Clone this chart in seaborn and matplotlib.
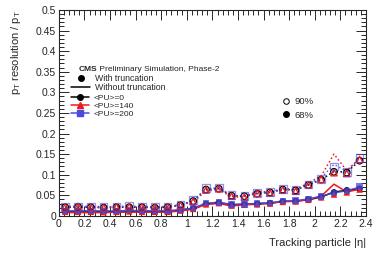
import numpy as np
import pandas as pd
import matplotlib
matplotlib.use("Agg")
import matplotlib.pyplot as plt
from matplotlib.lines import Line2D
from matplotlib.ticker import MultipleLocator
import seaborn as sns

# bin centres in |eta|
eta = [0.05, 0.15, 0.25, 0.35, 0.45, 0.55, 0.65, 0.75, 0.85, 0.95, 1.05, 1.15,
       1.25, 1.35, 1.45, 1.55, 1.65, 1.75, 1.85, 1.95, 2.05, 2.15, 2.25, 2.35]

# with truncation (markers)
pu0_68 = [0.011, 0.011, 0.011, 0.010, 0.011, 0.012, 0.011, 0.011, 0.011, 0.014, 0.018, 0.029,
          0.032, 0.027, 0.028, 0.029, 0.031, 0.035, 0.036, 0.040, 0.046, 0.057, 0.062, 0.066]
pu140_68 = [0.010, 0.010, 0.010, 0.009, 0.010, 0.011, 0.010, 0.010, 0.010, 0.013, 0.017, 0.028,
            0.031, 0.025, 0.027, 0.028, 0.030, 0.034, 0.035, 0.039, 0.045, 0.052, 0.057, 0.064]
pu200_68 = [0.012, 0.012, 0.012, 0.012, 0.012, 0.014, 0.013, 0.012, 0.013, 0.015, 0.019, 0.031,
            0.033, 0.028, 0.028, 0.030, 0.031, 0.036, 0.037, 0.041, 0.047, 0.056, 0.061, 0.071]
pu0_90 = [0.021, 0.022, 0.021, 0.020, 0.021, 0.021, 0.021, 0.020, 0.021, 0.026, 0.036, 0.064,
          0.066, 0.049, 0.048, 0.054, 0.057, 0.064, 0.062, 0.075, 0.088, 0.107, 0.105, 0.134]
pu140_90 = [0.022, 0.023, 0.021, 0.020, 0.022, 0.022, 0.022, 0.021, 0.022, 0.026, 0.035, 0.063,
            0.066, 0.048, 0.046, 0.055, 0.056, 0.063, 0.060, 0.075, 0.089, 0.105, 0.103, 0.137]
pu200_90 = [0.022, 0.022, 0.022, 0.021, 0.022, 0.024, 0.022, 0.021, 0.022, 0.027, 0.038, 0.068,
            0.069, 0.050, 0.048, 0.055, 0.058, 0.065, 0.063, 0.076, 0.090, 0.120, 0.107, 0.140]

# without truncation (lines)
pu0_68_line = [0.011, 0.011, 0.011, 0.011, 0.011, 0.012, 0.011, 0.011, 0.011, 0.014, 0.018, 0.029,
               0.032, 0.027, 0.028, 0.030, 0.031, 0.035, 0.036, 0.039, 0.046, 0.058, 0.062, 0.066]
pu140_68_line = [0.008, 0.008, 0.008, 0.008, 0.009, 0.009, 0.009, 0.009, 0.009, 0.012, 0.016, 0.028,
                 0.030, 0.024, 0.027, 0.028, 0.030, 0.035, 0.035, 0.040, 0.048, 0.077, 0.058, 0.065]
pu200_68_line = [0.012, 0.012, 0.012, 0.012, 0.012, 0.013, 0.013, 0.012, 0.013, 0.015, 0.019, 0.031,
                 0.033, 0.028, 0.029, 0.030, 0.032, 0.036, 0.037, 0.041, 0.048, 0.056, 0.061, 0.070]
pu0_90_line = [0.021, 0.021, 0.021, 0.020, 0.021, 0.021, 0.021, 0.020, 0.021, 0.026, 0.037, 0.064,
               0.067, 0.049, 0.048, 0.054, 0.057, 0.064, 0.063, 0.075, 0.088, 0.108, 0.106, 0.134]
pu140_90_line = [0.023, 0.024, 0.023, 0.022, 0.023, 0.023, 0.023, 0.022, 0.023, 0.027, 0.034, 0.061,
                 0.064, 0.046, 0.046, 0.060, 0.058, 0.066, 0.064, 0.080, 0.097, 0.150, 0.110, 0.140]
pu200_90_line = [0.022, 0.022, 0.022, 0.021, 0.022, 0.023, 0.022, 0.021, 0.022, 0.027, 0.037, 0.066,
                 0.068, 0.050, 0.048, 0.055, 0.058, 0.065, 0.063, 0.077, 0.092, 0.125, 0.108, 0.140]

pu_labels = ["<PU>=0", "<PU>=140", "<PU>=200"]
colors = {"<PU>=0": "black", "<PU>=140": "#f01818", "<PU>=200": "#4a4ae0"}
markers = {"<PU>=0": "o", "<PU>=140": "^", "<PU>=200": "s"}

marker_vals = {("<PU>=0", "68%"): pu0_68, ("<PU>=140", "68%"): pu140_68, ("<PU>=200", "68%"): pu200_68,
               ("<PU>=0", "90%"): pu0_90, ("<PU>=140", "90%"): pu140_90, ("<PU>=200", "90%"): pu200_90}
line_vals = {("<PU>=0", "68%"): pu0_68_line, ("<PU>=140", "68%"): pu140_68_line,
             ("<PU>=200", "68%"): pu200_68_line, ("<PU>=0", "90%"): pu0_90_line,
             ("<PU>=140", "90%"): pu140_90_line, ("<PU>=200", "90%"): pu200_90_line}

sns.set_style("ticks")
plt.rcParams["font.family"] = ["Liberation Sans", "DejaVu Sans"]
plt.rcParams["mathtext.fontset"] = "custom"
plt.rcParams["mathtext.rm"] = "Liberation Sans"
plt.rcParams["mathtext.it"] = "Liberation Sans:italic"

fig = plt.figure(figsize=(3.82, 2.54), dpi=100)
ax = fig.add_axes([0.154, 0.150, 0.804, 0.811])

for (pu, q), vals in line_vals.items():
    df = pd.DataFrame({"eta": eta, "res": vals})
    sns.lineplot(data=df, x="eta", y="res", ax=ax, color=colors[pu],
                 linestyle="-" if q == "68%" else ":", linewidth=1.1,
                 alpha=0.85 if pu == "<PU>=200" else 1, zorder=2)

for (pu, q), vals in marker_vals.items():
    df = pd.DataFrame({"eta": eta, "res": vals})
    if q == "68%":
        sns.scatterplot(data=df, x="eta", y="res", ax=ax, marker=markers[pu],
                        color=colors[pu], edgecolor="none", s=22,
                        alpha=0.75 if pu == "<PU>=200" else 1, zorder=3)
    else:
        sns.scatterplot(data=df, x="eta", y="res", ax=ax, marker=markers[pu],
                        facecolor="none", edgecolor=colors[pu], linewidth=0.9,
                        s=30 if pu == "<PU>=200" else 22,
                        alpha=0.6 if pu == "<PU>=200" else 1, zorder=3)

ax.set_xlim(0, 2.4)
ax.set_ylim(0, 0.5)
ax.xaxis.set_major_locator(MultipleLocator(0.2))
ax.xaxis.set_minor_locator(MultipleLocator(0.04))
ax.yaxis.set_major_locator(MultipleLocator(0.05))
ax.yaxis.set_minor_locator(MultipleLocator(0.01))
ax.set_xticklabels([f"{v:g}" for v in ax.get_xticks()])
ax.set_yticklabels([f"{v:g}" for v in ax.get_yticks()])
ax.tick_params(which="both", direction="in", top=True, right=True, labelsize=7.5,
               width=0.7, pad=2)
ax.tick_params(which="major", length=7)
ax.tick_params(which="minor", length=3.5)
for s in ax.spines.values():
    s.set_linewidth(0.8)

ax.set_xlabel("Tracking particle |η|", fontsize=8, ha="right", x=1.0, labelpad=7)
ax.set_ylabel(r"p$_{\mathrm{T}}$ resolution / p$_{\mathrm{T}}$", fontsize=8, ha="right",
              y=1.0, labelpad=9)

# header
t = ax.text(0.065, 0.71, "CMS", transform=ax.transAxes, fontsize=6, fontweight="bold",
            va="center")
ax.annotate(" Preliminary Simulation, Phase-2", xy=(1, 0.5), xycoords=t, fontsize=6,
            va="center", color="#222222")

# legends
h1 = [Line2D([], [], color="black", marker="o", linestyle="none", markersize=4),
      Line2D([], [], color="black", linewidth=1.1)]
leg1 = ax.legend(h1, ["With truncation", "Without truncation"], loc="upper left",
                 bbox_to_anchor=(0.04, 0.69), frameon=False, fontsize=6.3,
                 labelspacing=0.0, handlelength=2.2, handletextpad=0.5,
                 borderpad=0, borderaxespad=0)
ax.add_artist(leg1)

h2 = [Line2D([], [], color=colors[p], marker=markers[p], linewidth=1.1, markersize=4)
      for p in pu_labels]
leg2 = ax.legend(h2, pu_labels, loc="upper left", bbox_to_anchor=(0.04, 0.59),
                 frameon=False, fontsize=6.0, labelspacing=0.0, handlelength=2.2,
                 handletextpad=0.5, borderpad=0, borderaxespad=0)
ax.add_artist(leg2)

h3 = [Line2D([], [], color="black", marker="o", markerfacecolor="none", linestyle="none",
             markersize=4, markeredgewidth=0.7),
      Line2D([], [], color="black", marker="o", linestyle="none", markersize=4)]
ax.legend(h3, ["90%", "68%"], loc="upper left", bbox_to_anchor=(0.725, 0.575),
          frameon=False, fontsize=6.8, labelspacing=0.45, handlelength=1.0,
          handletextpad=0.4, borderpad=0, borderaxespad=0)

fig.savefig("out.png", dpi=100)
